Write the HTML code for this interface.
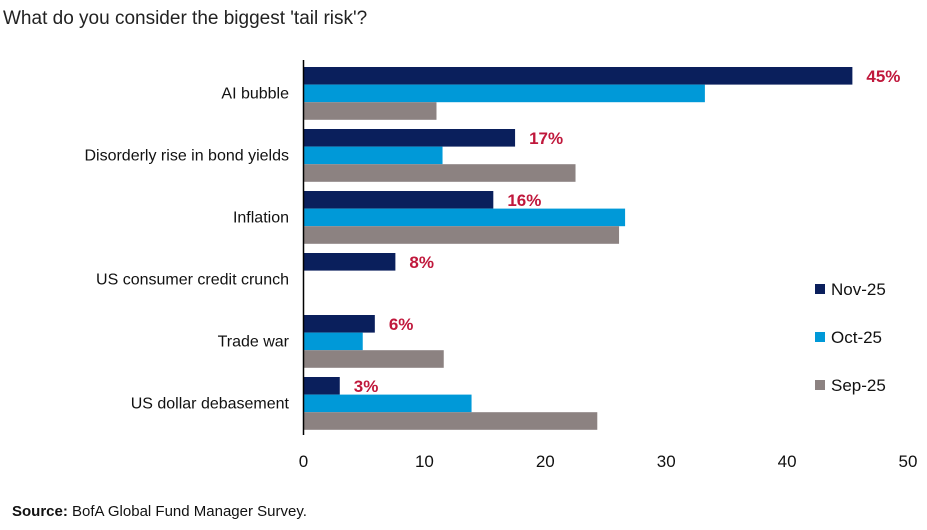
<!DOCTYPE html>
<html><head><meta charset="utf-8"><style>
body{margin:0;background:#fff;width:927px;height:525px;overflow:hidden;font-family:"Liberation Sans",sans-serif}
</style></head><body>
<svg id="chart" width="927" height="525">
<text x="3" y="24" font-size="19" fill="#222" style="font-family:'Liberation Sans Narrow','Liberation Sans',sans-serif">What do you consider the biggest 'tail risk'?</text>
<g id="bars"></g>
<line x1="303.5" y1="60" x2="303.5" y2="435" stroke="#000" stroke-width="1.5"/>
<g id="xticks"></g>
<g font-size="17" fill="#111">
<rect x="815" y="284" width="10" height="10" fill="#0a1f5c"/>
<text x="831" y="295">Nov-25</text>
<rect x="815" y="332" width="10" height="10" fill="#0099d8"/>
<text x="831" y="343">Oct-25</text>
<rect x="815" y="380" width="10" height="10" fill="#8c8281"/>
<text x="831" y="391">Sep-25</text>
</g>
<text x="12" y="516" font-size="15" fill="#111" style="font-family:'Liberation Sans Narrow','Liberation Sans',sans-serif"><tspan font-weight="bold">Source:</tspan> BofA Global Fund Manager Survey.</text>
</svg>
<script>
const categories=["AI bubble","Disorderly rise in bond yields","Inflation","US consumer credit crunch","Trade war","US dollar debasement"];
const nov=[45.4,17.5,15.7,7.6,5.9,3.0];
const oct=[33.2,11.5,26.6,0,4.9,13.9];
const sep=[11.0,22.5,26.1,0,11.6,24.3];
const novLabels=["45%","17%","16%","8%","6%","3%"];
const ticks=[0,10,20,30,40,50];
const NS="http://www.w3.org/2000/svg";
const x0=303.5,pxPer=12.09;
const X=v=>x0+v*pxPer;
const top0=67,groupH=62,barH=17.6;
const Y=(i,s)=>top0+i*groupH+s*barH;
const bars=document.getElementById('bars');
function mk(tag,attrs){const e=document.createElementNS(NS,tag);for(const k in attrs)e.setAttribute(k,attrs[k]);return e;}
const series=[[nov,"#0a1f5c","nov"],[oct,"#0099d8","oct"],[sep,"#8c8281","sep"]];
categories.forEach((c,i)=>{
  series.forEach(([arr,col,nm],s)=>{
    if(arr[i]<=0)return;
    const r=mk('rect',{x:x0,y:Y(i,s),width:X(arr[i])-x0,height:barH,fill:col});
    
    
    bars.appendChild(r);
  });
  const t=mk('text',{x:X(nov[i])+14,y:Y(i,0)+15,'font-size':17,'font-weight':'bold',fill:'#c0183c'});
  t.textContent=novLabels[i];
  
  
  bars.appendChild(t);
  const l=mk('text',{x:289,y:Y(i,1)+14,'font-size':16,fill:'#111','text-anchor':'end'});
  l.textContent=c;
  
  
  bars.appendChild(l);
});
const xt=document.getElementById('xticks');
ticks.forEach(v=>{
  const t=mk('text',{x:X(v),y:467,'font-size':17,fill:'#111','text-anchor':'middle'});
  t.textContent=v;
  
  
  xt.appendChild(t);
});
</script>
</body></html>
